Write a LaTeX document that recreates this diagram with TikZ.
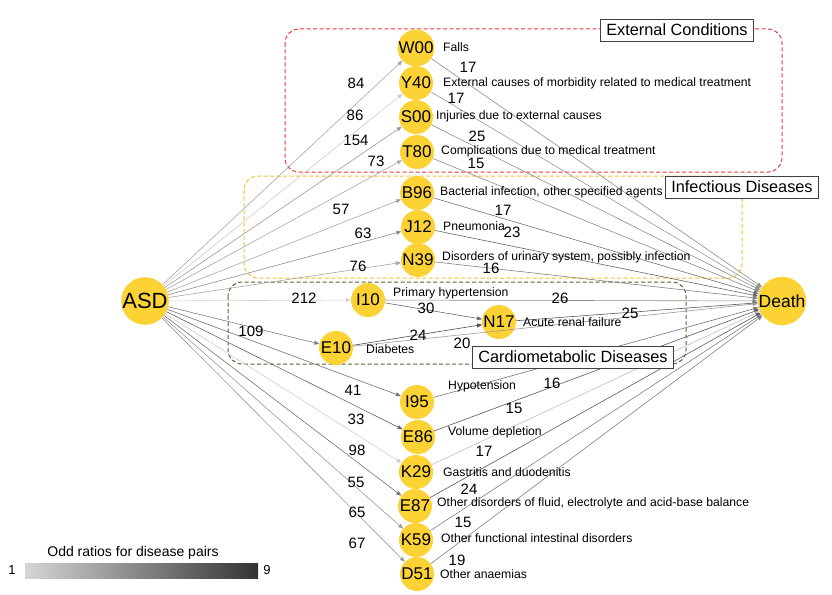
\documentclass[tikz,border=0pt]{standalone}
\usepackage{fontspec}
\setmainfont{Liberation Sans}
\usetikzlibrary{arrows.meta}
\definecolor{dotyellow}{RGB}{252,210,52}
\definecolor{extred}{RGB}{232,56,63}
\definecolor{infyellow}{RGB}{242,193,46}
\definecolor{cardgreen}{RGB}{85,100,50}
\definecolor{barlight}{RGB}{214,214,214}
\definecolor{bardark}{RGB}{51,51,51}
\tikzset{
	dis/.style={circle, fill=dotyellow, minimum size=34pt, inner sep=0pt, font=\fontsize{17}{17}\selectfont},
	desc/.style={anchor=west, inner sep=0pt, font=\fontsize{12.2}{13}\selectfont},
	num/.style={inner sep=0pt, font=\fontsize{15}{15}\selectfont},
	grplabel/.style={draw=black!75, fill=white, line width=0.8pt, inner xsep=6pt, inner ysep=5pt, font=\fontsize{16.3}{17}\selectfont},
	edge/.style={line width=0.6pt, -{Triangle[length=5pt,width=4pt]}},
	grpbox/.style={line width=1pt, dash pattern=on 4pt off 2.5pt, rounded corners=14pt}
}

\begin{document}
\begin{tikzpicture}[x=1pt, y=-1pt]
			%%%%% FRAME %%%%%
			\useasboundingbox (0,0) rectangle (832,594);
			
			%%%%% GROUPS %%%%%
			\draw[grpbox, extred] (285, 29) rectangle (782, 172);
			\draw[grpbox, infyellow] (244, 176) rectangle (742, 278);
			\draw[grpbox, cardgreen] (228, 282) rectangle (686, 364);
			
			%%%%% NODES %%%%%
			\node[dis, minimum size=47pt, font=\fontsize{22}{22}\selectfont] (ASD) at (145, 301) {ASD};
			\node[dis, minimum size=48pt, font=\fontsize{17.5}{18}\selectfont] (Death) at (782, 301) {Death};
			
			\node[dis] (W00) at (416, 48) {W00};
			\node[dis] (Y40) at (416, 83) {Y40};
			\node[dis] (S00) at (416, 117) {S00};
			\node[dis] (T80) at (417, 152) {T80};
			\node[dis] (B96) at (417, 193) {B96};
			\node[dis] (J12) at (418, 227) {J12};
			\node[dis] (N39) at (418, 260) {N39};
			\node[dis] (I10) at (368, 300) {I10};
			\node[dis] (N17) at (499, 322) {N17};
			\node[dis] (E10) at (336, 348) {E10};
			\node[dis] (I95) at (417, 402) {I95};
			\node[dis] (E86) at (418, 437) {E86};
			\node[dis] (K29) at (416, 472) {K29};
			\node[dis] (E87) at (415, 506) {E87};
			\node[dis] (K59) at (416, 540) {K59};
			\node[dis] (D51) at (417, 574) {D51};
			
			%%%%% ASD EDGES %%%%%
			\draw[edge, color=black!35] (ASD) -- (W00);
			\draw[edge, color=black!20] (ASD) -- (Y40);
			\draw[edge, color=black!40] (ASD) -- (S00);
			\draw[edge, color=black!35] (ASD) -- (T80);
			\draw[edge, color=black!35] (ASD) -- (B96);
			\draw[edge, color=black!45] (ASD) -- (J12);
			\draw[edge, color=black!35] (ASD) -- (N39);
			\draw[edge, color=black!18] (ASD) -- (I10);
			\draw[edge, color=black!50] (ASD) -- (E10);
			\draw[edge, color=black!55] (ASD) -- (I95);
			\draw[edge, color=black!60] (ASD) -- (E86);
			\draw[edge, color=black!20] (ASD) -- (K29);
			\draw[edge, color=black!55] (ASD) -- (E87);
			\draw[edge, color=black!40] (ASD) -- (K59);
			\draw[edge, color=black!40] (ASD) -- (D51);
			
			%%%%% INNER EDGES %%%%%
			\draw[edge, color=black!60] (I10) -- (N17);
			\draw[edge, color=black!70] (E10) -- (N17);
			
			%%%%% DEATH EDGES %%%%%
			\draw[edge, color=black!45] (W00) -- (Death);
			\draw[edge, color=black!40] (Y40) -- (Death);
			\draw[edge, color=black!45] (S00) -- (Death);
			\draw[edge, color=black!45] (T80) -- (Death);
			\draw[edge, color=black!55] (B96) -- (Death);
			\draw[edge, color=black!60] (J12) -- (Death);
			\draw[edge, color=black!50] (N39) -- (Death);
			\draw[edge, color=black!45] (I10) -- (Death);
			\draw[edge, color=black!65] (N17) -- (Death);
			\draw[edge, color=black!40] (E10) -- (Death);
			\draw[edge, color=black!55] (I95) -- (Death);
			\draw[edge, color=black!65] (E86) -- (Death);
			\draw[edge, color=black!25] (K29) -- (Death);
			\draw[edge, color=black!65] (E87) -- (Death);
			\draw[edge, color=black!50] (K59) -- (Death);
			\draw[edge, color=black!50] (D51) -- (Death);
			
			%%%%% DESCRIPTIONS %%%%%
			\node[desc] (W00t) at (443, 47) {Falls};
			\node[desc] (Y40t) at (443, 83) {External causes of morbidity related to medical treatment};
			\node[desc] (S00t) at (436, 116) {Injuries due to external causes};
			\node[desc] (T80t) at (441, 151) {Complications due to medical treatment};
			\node[desc] (B96t) at (440, 192) {Bacterial infection, other specified agents};
			\node[desc] (J12t) at (443, 226) {Pneumonia};
			\node[desc] (N39t) at (442, 257) {Disorders of urinary system, possibly infection};
			\node[desc] (I10t) at (393, 293) {Primary hypertension};
			\node[desc] (N17t) at (523, 322) {Acute renal failure};
			\node[desc] (E10t) at (366, 349) {Diabetes};
			\node[desc] (I95t) at (448, 386) {Hypotension};
			\node[desc] (E86t) at (448, 432) {Volume depletion};
			\node[desc] (K29t) at (443, 472) {Gastritis and duodenitis};
			\node[desc] (E87t) at (437, 503) {Other disorders of fluid, electrolyte and acid-base balance};
			\node[desc] (K59t) at (441, 538) {Other functional intestinal disorders};
			\node[desc] (D51t) at (440, 574) {Other anaemias};
			
			%%%%% ASD NUMBERS %%%%%
			\node[num] (nW00) at (356, 83) {84};
			\node[num] (nY40) at (355, 115) {86};
			\node[num] (nS00) at (356, 140) {154};
			\node[num] (nT80) at (376, 161) {73};
			\node[num] (nB96) at (341, 209) {57};
			\node[num] (nJ12) at (363, 233) {63};
			\node[num] (nN39) at (358, 266) {76};
			\node[num] (nI10) at (304, 298) {212};
			\node[num] (nE10) at (251, 331) {109};
			\node[num] (nI95) at (353, 390) {41};
			\node[num] (nE86) at (356, 419) {33};
			\node[num] (nK29) at (357, 450) {98};
			\node[num] (nE87) at (356, 482) {55};
			\node[num] (nK59) at (357, 512) {65};
			\node[num] (nD51) at (357, 543) {67};
			
			%%%%% DEATH NUMBERS %%%%%
			\node[num] (dW00) at (468, 67) {17};
			\node[num] (dY40) at (456, 98) {17};
			\node[num] (dS00) at (477, 136) {25};
			\node[num] (dT80) at (476, 163) {15};
			\node[num] (dB96) at (503, 210) {17};
			\node[num] (dJ12) at (512, 232) {23};
			\node[num] (dN39) at (491, 268) {16};
			\node[num] (dI10) at (560, 298) {26};
			\node[num] (nI10N17) at (426, 308) {30};
			\node[num] (nE10N17) at (418, 335) {24};
			\node[num] (dN17) at (630, 313) {25};
			\node[num] (dE10) at (462, 343) {20};
			\node[num] (dI95) at (552, 383) {16};
			\node[num] (dE86) at (514, 408) {15};
			\node[num] (dK29) at (484, 451) {17};
			\node[num] (dE87) at (469, 489) {24};
			\node[num] (dK59) at (463, 522) {15};
			\node[num] (dD51) at (457, 560) {19};
			
			%%%%% GROUP LABELS %%%%%
			\node[grplabel] (extlab) at (677, 30) {External Conditions};
			\node[grplabel] (inflab) at (742, 187) {Infectious Diseases};
			\node[grplabel] (cardlab) at (573, 357) {Cardiometabolic Diseases};
			
			%%%%% LEGEND %%%%%
			\node[font=\fontsize{14}{14}\selectfont] (legtitle) at (133, 553) {Odd ratios for disease pairs};
			\shade[left color=barlight, right color=bardark] (25, 563) rectangle (258, 578);
			\node[font=\fontsize{13}{13}\selectfont] (legmin) at (12, 570) {1};
			\node[font=\fontsize{13}{13}\selectfont] (legmax) at (267, 570) {9};
			
		\end{tikzpicture}
\end{document}
